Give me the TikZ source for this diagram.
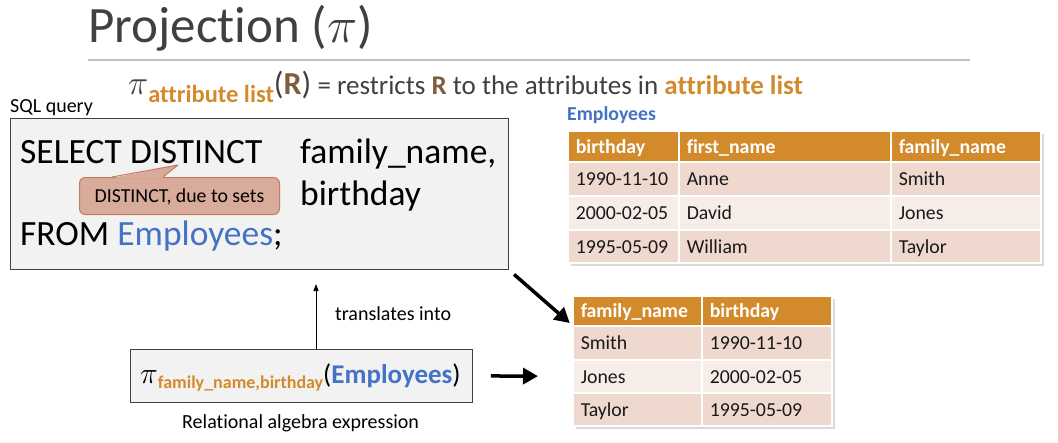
\documentclass[tikz,border=0pt]{standalone}
\usepackage{fix-cm}
\usepackage{fontspec}
\setmainfont{Carlito}[Ligatures={TeX,NoCommon}]
\usepackage{amsmath}
\usepackage{xcolor}
\usepackage{tikz}
\usetikzlibrary{positioning, arrows.meta, calc}

\definecolor{titlegray}{HTML}{404040}
\definecolor{rulegray}{HTML}{BFBFBF}
\definecolor{headorange}{HTML}{D38A2B}
\definecolor{keyblue}{HTML}{4472C4}
\definecolor{relbrown}{HTML}{7F5E3E}
\definecolor{rowdark}{HTML}{EFD9CE}
\definecolor{rowlight}{HTML}{F6ECE8}
\definecolor{boxgray}{HTML}{F2F2F2}
\definecolor{notefill}{HTML}{D8AB9B}
\definecolor{noteline}{HTML}{C27B5F}

\tikzset{
  cell/.style={draw=white, line width=1.5pt, anchor=north west, inner xsep=8pt, inner ysep=0pt,
    align=left, text height=16pt, text depth=2pt, text=black!90, font=\fontsize{19.8}{22}\selectfont},
  headcell/.style={cell, fill=headorange, text=white, font=\fontsize{19.8}{22}\selectfont\bfseries},
  plain/.style={inner sep=0pt, anchor=base west},
  fatarrow/.style={-{Triangle[length=15pt,width=16pt]}, line width=3.5pt},
}

\begin{document}
\begin{tikzpicture}[x=1pt, y=-1pt]
\useasboundingbox (0,0) rectangle (1058,442);

% title
\node[plain, text=titlegray, font=\fontsize{51}{56}\selectfont] (title) at (88,42) {Projection ($\pi$)};
\draw[rulegray, line width=1.5pt] (88,60) -- (970,60);
\node[plain, text=titlegray, font=\fontsize{27}{30}\selectfont] (defn) at (128,94)
  {{\fontsize{34}{36}\selectfont$\pi$}\raisebox{-8pt}{\fontsize{24.5}{26}\selectfont\bfseries\textcolor{headorange}{attribute list}}{\fontsize{32}{36}\selectfont(\textcolor{relbrown}{\bfseries R})} = restricts \textcolor{relbrown}{\bfseries R} to the attributes in \textcolor{headorange}{\bfseries attribute list}};

% SQL query
\node[plain, font=\fontsize{20}{22}\selectfont] (sqllabel) at (10,112) {SQL query};
\node[draw=black!75, fill=boxgray, line width=0.8pt, minimum width=498pt, minimum height=151pt, anchor=north west] (sqlbox) at (10,118) {};
\node[plain, font=\fontsize{35.5}{40}\selectfont] (select) at (20,163) {SELECT DISTINCT};
\node[plain, font=\fontsize{35.5}{40}\selectfont] (attra) at (300,163) {family\_name,};
\node[plain, font=\fontsize{35.5}{40}\selectfont] (attrb) at (300,205) {birthday};
\node[plain, font=\fontsize{35.5}{40}\selectfont] (from) at (20,245) {FROM \textcolor{keyblue}{Employees};};

% callout
\node[draw=noteline, fill=notefill, line width=1pt, rounded corners=6pt, minimum width=200pt, minimum height=37pt,
  anchor=north west, text height=13pt, text depth=0pt, font=\fontsize{19.8}{22}\selectfont] (note) at (79,177) {DISTINCT, due to sets};
\coordinate (notetip) at (178,165);
\fill[notefill] (112.5,178) -- (notetip) -- (162.5,178) -- cycle;
\draw[noteline, line width=1pt, line join=round] (112,177) -- (notetip) -- (163,177);

% Employees table
\node[plain, text=keyblue, font=\fontsize{19.8}{22}\selectfont\bfseries] (emplabel) at (567,120) {Employees};
\fill[black!15] (571,134) rectangle (1044,266);
\fill[black!35] (569,132) rectangle (1042,264);
\node[headcell, text width=95pt, minimum height=31pt] (emp11) at (567,130) {birthday};
\node[headcell, text width=196pt, minimum height=31pt] (emp12) at (678,130) {first\_name};
\node[headcell, text width=134pt, minimum height=31pt] (emp13) at (890,130) {family\_name};
\node[cell, fill=rowdark, text width=95pt, minimum height=34pt] (emp21) at (567,161) {1990-11-10};
\node[cell, fill=rowdark, text width=196pt, minimum height=34pt] (emp22) at (678,161) {Anne};
\node[cell, fill=rowdark, text width=134pt, minimum height=34pt] (emp23) at (890,161) {Smith};
\node[cell, fill=rowlight, text width=95pt, minimum height=34pt] (emp31) at (567,195) {2000-02-05};
\node[cell, fill=rowlight, text width=196pt, minimum height=34pt] (emp32) at (678,195) {David};
\node[cell, fill=rowlight, text width=134pt, minimum height=34pt] (emp33) at (890,195) {Jones};
\node[cell, fill=rowdark, text width=95pt, minimum height=33pt] (emp41) at (567,229) {1995-05-09};
\node[cell, fill=rowdark, text width=196pt, minimum height=33pt] (emp42) at (678,229) {William};
\node[cell, fill=rowdark, text width=134pt, minimum height=33pt] (emp43) at (890,229) {Taylor};

% result table
\fill[black!15] (576,299) rectangle (835,429);
\fill[black!35] (574,297) rectangle (833,427);
\node[headcell, text width=113pt, minimum height=30pt] (res11) at (572,295) {family\_name};
\node[headcell, text width=114pt, minimum height=30pt] (res12) at (701,295) {birthday};
\node[cell, fill=rowdark, text width=113pt, minimum height=34pt] (res21) at (572,325) {Smith};
\node[cell, fill=rowdark, text width=114pt, minimum height=34pt] (res22) at (701,325) {1990-11-10};
\node[cell, fill=rowlight, text width=113pt, minimum height=33pt] (res31) at (572,359) {Jones};
\node[cell, fill=rowlight, text width=114pt, minimum height=33pt] (res32) at (701,359) {2000-02-05};
\node[cell, fill=rowdark, text width=113pt, minimum height=33pt] (res41) at (572,392) {Taylor};
\node[cell, fill=rowdark, text width=114pt, minimum height=33pt] (res42) at (701,392) {1995-05-09};

% relational algebra
\node[draw=black!75, fill=boxgray, line width=0.8pt, minimum width=342pt, minimum height=53pt, anchor=north west] (rabox) at (130,349) {};
\node[plain, font=\fontsize{27}{30}\selectfont] (raexpr) at (140,383)
  {{\fontsize{30}{34}\selectfont$\pi$}\raisebox{-5pt}{\fontsize{18}{20}\selectfont\bfseries\textcolor{headorange}{family\_name,birthday}}(\textcolor{keyblue}{\bfseries Employees})};
\node[plain, font=\fontsize{20}{22}\selectfont] (ralabel) at (182,428) {Relational algebra expression};
\node[plain, font=\fontsize{20}{22}\selectfont] (translates) at (335,320) {translates into};

% arrows
\coordinate (upend) at (316,284);
\draw[-{Triangle[length=7pt,width=5pt]}, line width=1pt] (rabox.north -| upend) -- (upend);
\draw[fatarrow, shorten <=7pt, shorten >=3pt] (sqlbox.south east) -- (res21.north west);
\draw[fatarrow, shorten <=18pt, shorten >=34pt] (rabox.east) -- (res31.west);
\end{tikzpicture}
\end{document}
